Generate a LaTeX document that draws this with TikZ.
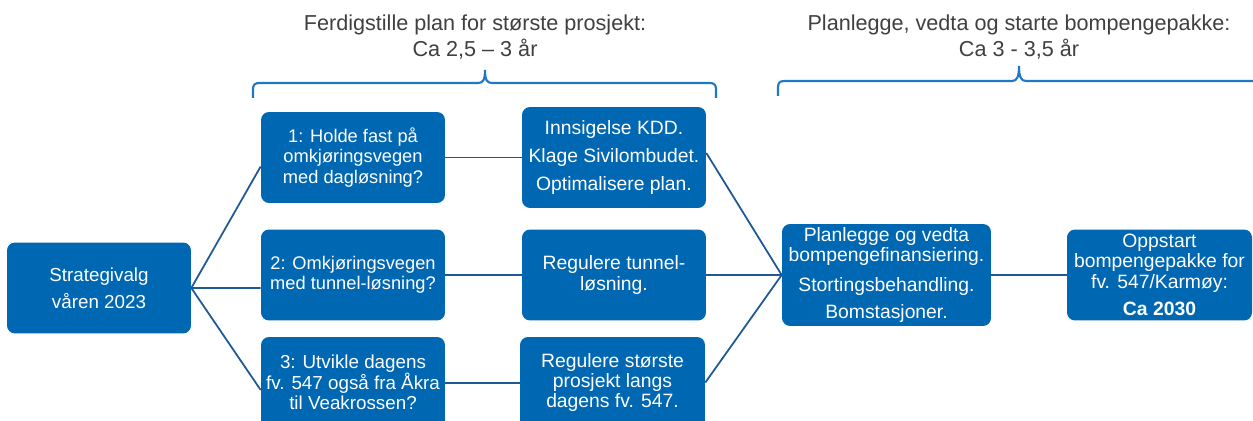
\documentclass[tikz,border=0pt]{standalone}
\usepackage{fontspec}
\setmainfont{Liberation Sans}
\definecolor{boxblue}{RGB}{0,103,178}
\definecolor{linkblue}{RGB}{30,88,150}
\definecolor{braceblue}{RGB}{31,120,196}
\definecolor{headgray}{RGB}{64,64,64}
\begin{document}
\begin{tikzpicture}[x=0.02cm,y=-0.02cm,
  box/.style={draw=none,fill=boxblue,rounded corners=0.16cm,text=white,align=center,
    minimum width=3.68cm,minimum height=1.82cm,inner sep=0pt,
    font=\fontsize{10.4}{11.6}\selectfont},
  bigtext/.style={font=\fontsize{11}{11.6}\selectfont},
  link/.style={draw=linkblue,line width=1pt},
  brace/.style={draw=braceblue,line width=1.2pt},
  head/.style={text=headgray,align=center,font=\fontsize{12.3}{14.8}\selectfont}]
\clip (0,0) rectangle (1253,421);
\fill[white] (0,0) rectangle (1253,421);
% header texts
\node[head] (h1) at (475,37) {Ferdigstille plan for største prosjekt:\\Ca 2,5 – 3 år};
\node[head] (h2) at (1019,37) {Planlegge, vedta og starte bompengepakke:\\Ca 3 - 3,5 år};
% braces
\draw[brace] (253,98) -- (253,89) .. controls (253,85) and (255,83) .. (259,83) -- (478,83)
  .. controls (483,83) and (485,80) .. (485,70)
  .. controls (485,80) and (487,83) .. (492,83) -- (710,83)
  .. controls (714,83) and (716,85) .. (716,89) -- (716,98);
\draw[brace] (778,96) -- (778,87) .. controls (778,83) and (780,81) .. (784,81) -- (1012,81)
  .. controls (1017,81) and (1019,77) .. (1019,66)
  .. controls (1019,77) and (1021,81) .. (1026,81) -- (1270,81);
% nodes
\node[box,font=\fontsize{10.7}{11.6}\selectfont] (S) at (99,288) {Strategivalg\\[4pt]våren 2023};
\node[box] (A1) at (353,157.5) {1: Holde fast på\\omkjøringsvegen\\med dagløsning?};
\node[box] (A2) at (353,275) {2: Omkjøringsvegen\\med tunnel-løsning?};
\node[box,font=\fontsize{10.7}{11.6}\selectfont] (A3) at (353,382.5) {3: Utvikle dagens\\fv. 547 også fra Åkra\\til Veakrossen?};
\node[box,bigtext,minimum height=2.02cm] (B1) at (614,157.5) {Innsigelse KDD.\\[4.5pt]Klage Sivilombudet.\\[4pt]Optimalisere plan.};
\node[box,bigtext] (B2) at (614,275) {Regulere tunnel-\\løsning.};
\node[box,bigtext,minimum width=3.7cm] (B3) at (612.5,382.5) {Regulere største\\prosjekt langs\\dagens fv. 547.};
\node[box,bigtext,minimum width=4.18cm,minimum height=2.04cm] (C) at (886.5,275) {Planlegge og vedta\\bompengefinansiering.\\[5pt]Stortingsbehandling.\\[4pt]Bomstasjoner.};
\node[box,bigtext,minimum width=3.7cm] (D) at (1159.5,275) {Oppstart\\bompengepakke for\\fv. 547/Karmøy:\\[4pt]\textbf{Ca 2030}};
% connectors
\draw[link] (S.east) -- ([yshift=-0.18cm]A1.west);
\draw[link] (S.east) -- ([yshift=-0.26cm]A2.west);
\draw[link] (S.east) -- ([yshift=-0.15cm]A3.west);
\draw[link] (A1.east) -- (B1.west);
\draw[link] (A2.east) -- (B2.west);
\draw[link] ([yshift=-0.01cm]A3.east) -- ([yshift=-0.01cm]B3.west);
\draw[link] ([yshift=0.09cm]B1.east) -- (C.west);
\draw[link] (B2.east) -- (C.west);
\draw[link] (B3.east) -- (C.west);
\draw[link] (C.east) -- (D.west);
\end{tikzpicture}
\end{document}
